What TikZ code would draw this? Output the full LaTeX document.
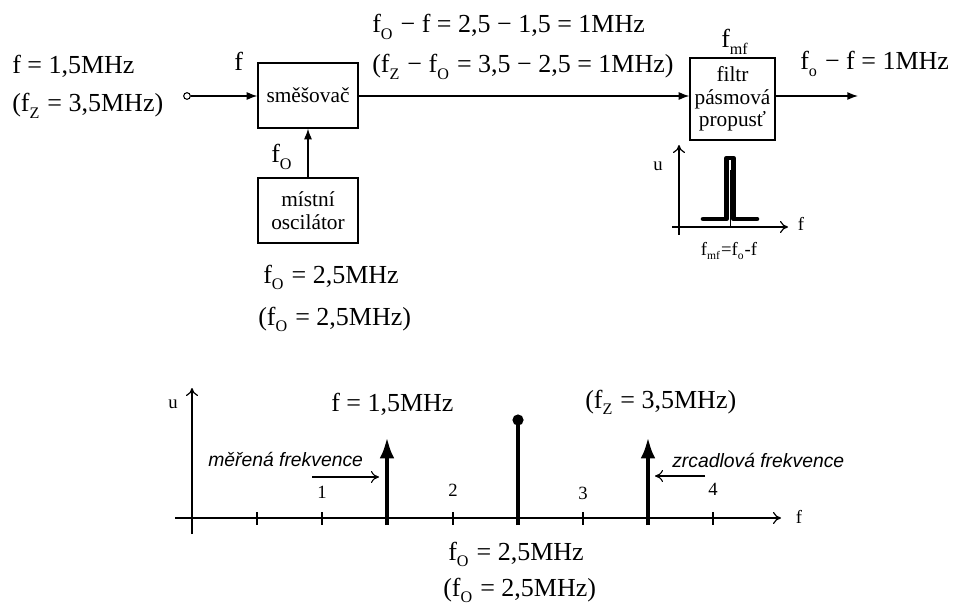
\documentclass[tikz,border=0pt]{standalone}
\usepackage{fontspec}
\setmainfont{Liberation Serif}
\newfontfamily\italsans{Liberation Sans}
\usetikzlibrary{arrows.meta}
\newcommand\sbs[1]{\raisebox{-0.25em}{\fontsize{0.62em}{0.62em}\selectfont #1}\kern0.06em}
\begin{document}
\begin{tikzpicture}[x=0.75pt,y=-0.75pt,
  lbl/.style={font=\fontsize{19.5}{23}\selectfont, inner sep=0pt, anchor=base west},
  boxtxt/.style={font=\fontsize{16}{18}\selectfont},
  blk/.style={draw, line width=0.9pt, boxtxt, align=center, inner sep=0pt},
  small/.style={font=\fontsize{14}{16}\selectfont, inner sep=0pt},
  ital/.style={font=\italsans\itshape\fontsize{14.5}{16}\selectfont, inner sep=0pt},
  conn/.style={line width=1pt, -{Latex[length=8pt,width=6pt]}},
  axis/.style={line width=0.9pt, -{To[length=6pt,width=9pt]}},
  spike/.style={line width=3.4pt, -{Latex[length=16pt,width=11pt]}},
]
\useasboundingbox (0,0) rectangle (957,606);

% ---- top block diagram ----
\node[lbl] (l1) at (12,74) {f = 1,5MHz};
\node[lbl] (l2) at (12,112) {(f\sbs{Z}\ = 3,5MHz)};
\node[draw, circle, line width=0.8pt, inner sep=0pt, minimum size=5pt] (in) at (187,96) {};

\node[blk, minimum width=75pt, minimum height=48.75pt] (mix) at (308,95.5) {směšovač};
\node[blk, minimum width=75pt, minimum height=48.75pt] (osc) at (308,210.5) {místní\\[-1pt]oscilátor};
\node[blk, minimum width=63.75pt, minimum height=61.5pt] (filt) at (732.5,99) {filtr\\[-1pt]pásmová\\[-1pt]propusť};

\node[lbl] (fin) at (234,71) {f};
\node[lbl] (fo1) at (271,163) {f\sbs{O}};
\node[lbl] (fmf) at (721,48) {f\sbs{mf}};

\node[lbl] (t1) at (372,33) {f\sbs{O}\ − f = 2,5 − 1,5 = 1MHz};
\node[lbl] (t2) at (372,73) {(f\sbs{Z}\ − f\sbs{O}\ = 3,5 − 2,5 = 1MHz)};
\node[lbl] (tout) at (800,70) {f\sbs{o}\ − f = 1MHz};

\node[lbl] (o1) at (263,283) {f\sbs{O}\ = 2,5MHz};
\node[lbl] (o2) at (258,325) {(f\sbs{O}\ = 2,5MHz)};

\coordinate (out) at (858,96);
\draw[conn] (in) -- (mix.west |- in);
\draw[conn] (osc.north) -- (mix.south);
\draw[conn] (mix.east |- in) -- (filt.west |- in);
\draw[conn] (filt.east |- in) -- (out);

% ---- small filter graph ----
\coordinate (sa0) at (679,235);
\coordinate (sa1) at (679,145);
\coordinate (sh0) at (672,227);
\coordinate (sh1) at (788,227);
\draw[axis] (sa0) -- (sa1);
\draw[axis] (sh0) -- (sh1);
\draw[line width=3.4pt, line cap=round, line join=round]
  (703,219) -- (726.5,219) -- (726.5,158) -- (733.5,158) -- (733.5,219) -- (757,219);
\draw[white, line width=1.6pt] (730,164) -- (730,214);
\draw[line width=0.6pt] (730,170) -- (730,227);
\node[small] (su) at (658,166) {u};
\node[small] (sf) at (801,224) {f};
\node[small] (sfl) at (729,251) {f\sbs{mf}=f\sbs{o}-f};

% ---- bottom spectrum ----
\draw[axis] (192,534) -- (192,388);
\draw[axis] (175,518) -- (781,518);
\foreach \x in {257,322,453,583,713} \draw[line width=0.9pt] (\x,512) -- (\x,525);
\node[small] (bu) at (173,404) {u};
\node[small] (bf) at (799,517) {f};
\node[small] (n1) at (322,492) {1};
\node[small] (n2) at (453,490) {2};
\node[small] (n3) at (583,493) {3};
\node[small] (n4) at (713,489) {4};

\draw[spike] (387,525) -- (387,437);
\draw[line width=3.4pt] (518,525) -- (518,421);
\fill (518,420) circle (4.2pt);
\draw[spike] (648,525) -- (648,437);

\node[lbl] (bl1) at (331,411) {f = 1,5MHz};
\node[lbl] (bl2) at (585,408) {(f\sbs{Z}\ = 3,5MHz)};
\node[lbl] (bl3) at (448,560) {f\sbs{O}\ = 2,5MHz};
\node[lbl] (bl4) at (443,596) {(f\sbs{O}\ = 2,5MHz)};

\node[ital, anchor=west] (mer) at (208,459) {měřená frekvence};
\node[ital, anchor=west] (zrc) at (672,460) {zrcadlová frekvence};
\coordinate (ma0) at (312,477);
\coordinate (ma1) at (379,477);
\coordinate (za0) at (705,476);
\coordinate (za1) at (655,476);
\draw[axis, line width=0.8pt] (ma0) -- (ma1);
\draw[axis, line width=0.8pt] (za0) -- (za1);
\end{tikzpicture}
\end{document}
